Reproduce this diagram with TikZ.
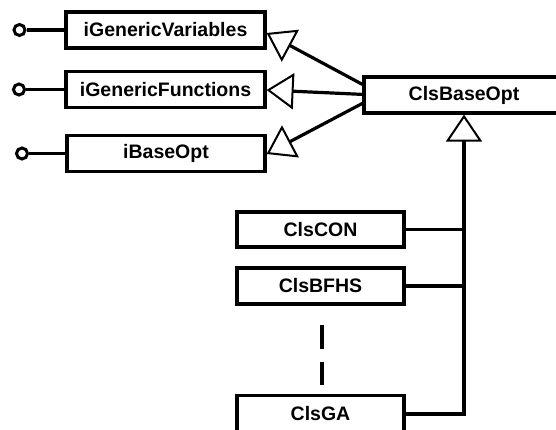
\documentclass[tikz,border=0pt]{standalone}
\usepackage{fontspec}
\setmainfont{Liberation Sans}
\usetikzlibrary{arrows.meta,calc}
\begin{document}
\begin{tikzpicture}[x=1pt,y=-1pt,
  box/.style={draw,line width=3.2pt,minimum height=36pt,inner sep=0pt,
    font=\fontsize{19.5}{23}\selectfont\bfseries},
  wire/.style={line width=3.2pt},
  inh/.style={line width=3.2pt,-{Triangle[open,length=27pt,width=36pt,line width=2pt]}},
  lolly/.style={draw,circle,line width=3pt,minimum size=11pt,inner sep=0pt}]
\useasboundingbox (0,0) rectangle (556,430);

% interfaces
\node[box,minimum width=199pt] (ivar) at (165.5,30) {iGenericVariables};
\node[box,minimum width=199pt] (ifun) at (165.5,89.5) {iGenericFunctions};
\node[box,minimum width=198pt] (ibase) at (166,153.5) {iBaseOpt};

% provided-interface lollipops
\node[lolly] (lv) at (19.5,30) {};
\node[lolly] (lf) at (19,89.5) {};
\node[lolly] (lb) at (22,153.5) {};
\draw[wire] (lv) -- (ivar.west);
\draw[wire] (lf) -- (ifun.west);
\draw[wire] (lb) -- (ibase.west);

% base class
\node[box,minimum width=200pt] (base) at (464,95) {ClsBaseOpt};

% realizations of the interfaces
\draw[inh] ($(base.north west)+(0,9)$) -- ($(ivar.east)+(0,3)$);
\draw[inh] ($(base.north west)+(0,19)$) -- ($(ifun.east)+(0,0.5)$);
\draw[inh] ($(base.north west)+(0,28)$) -- ($(ibase.east)+(0,0.5)$);

% derived classes
\node[box,minimum width=167pt,minimum height=35pt] (con) at (320.5,229.5) {ClsCON};
\node[box,minimum width=167pt] (bfhs) at (320.5,286) {ClsBFHS};
\node[box,minimum width=167pt,minimum height=37pt] (ga) at (320.5,414) {ClsGA};

\draw[inh] (ga.east) -| (base.south);
\draw[wire] (con.east) -- (con.east -| base.south);
\draw[wire] (bfhs.east) -- (bfhs.east -| base.south);

% elided classes
\draw[wire,dash pattern=on 0pt off 19pt on 24pt off 13pt on 23pt off 12pt]
  ($(bfhs.south)+(1.5,0)$) -- ($(ga.north)+(1.5,0)$);
\end{tikzpicture}
\end{document}
